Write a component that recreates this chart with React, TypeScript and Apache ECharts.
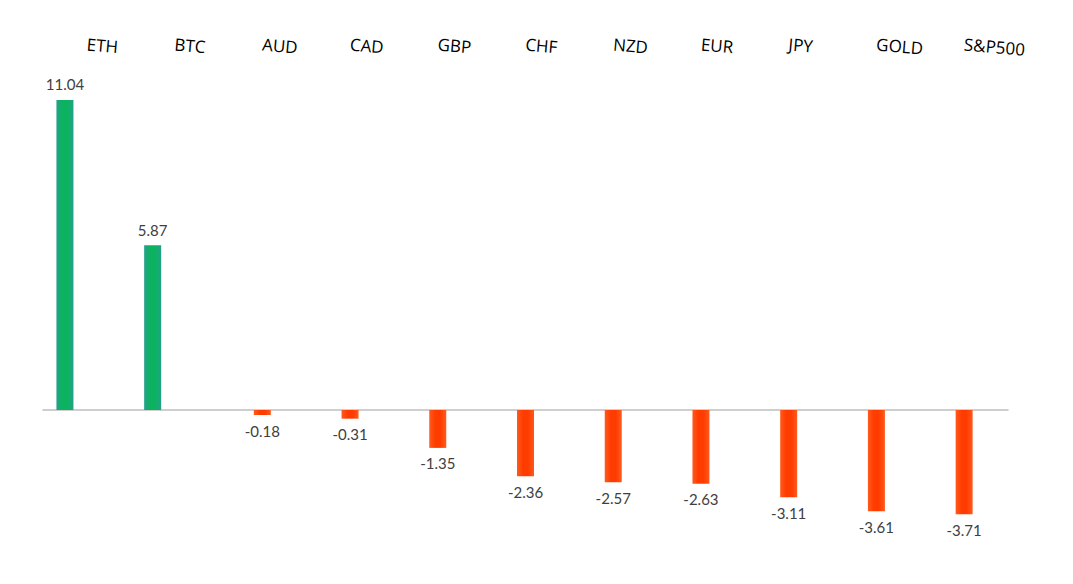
import React, { useEffect, useRef } from "react";
import * as echarts from "echarts";

const categories = ["ETH", "BTC", "AUD", "CAD", "GBP", "CHF", "NZD", "EUR", "JPY", "GOLD", "S&P500"];
const values = [11.04, 5.87, -0.18, -0.31, -1.35, -2.36, -2.57, -2.63, -3.11, -3.61, -3.71];

const positiveValues = values.map((v) => (v >= 0 ? v : null));
const negativeValues = values.map((v) => (v < 0 ? v : null));
const emptyValues = values.map(() => null);

export default function App() {
  const ref = useRef<HTMLDivElement>(null);
  useEffect(() => {
    if (!ref.current) return;
    const chart = echarts.init(ref.current, undefined, { renderer: "svg" });
    const greenGrad = new echarts.graphic.LinearGradient(0, 0, 1, 0, [
      { offset: 0, color: "#23a08a" },
      { offset: 0.35, color: "#0cb35f" },
      { offset: 0.65, color: "#0cb35f" },
      { offset: 1, color: "#23a08a" },
    ]);
    const redGrad = new echarts.graphic.LinearGradient(0, 0, 1, 0, [
      { offset: 0, color: "#ff5a1e" },
      { offset: 0.35, color: "#ff3c00" },
      { offset: 0.65, color: "#ff3c00" },
      { offset: 1, color: "#ff5a1e" },
    ]);
    const labelStyle = {
      show: true,
      color: "#404040",
      fontFamily: "Lato",
      fontSize: 15,
      distance: 8,
      formatter: (p: any) => (p.value == null ? "" : Number(p.value).toFixed(2)),
    };
    chart.setOption({
      animation: false,
      backgroundColor: "#ffffff",
      grid: { left: 43, right: 65, top: 73, bottom: 61.7 },
      xAxis: [
        {
          type: "category",
          data: categories,
          axisLine: { show: true, onZero: true, lineStyle: { color: "#bfbfbf", width: 1.5 } },
          axisTick: { show: false },
          axisLabel: { show: false },
          splitLine: { show: false },
        },
        {
          type: "category",
          data: categories,
          position: "top",
          axisLine: { show: false },
          axisTick: { show: false },
          splitLine: { show: false },
          axisLabel: {
            show: true,
            interval: 0,
            rotate: 5,
            align: "left",
            verticalAlign: "middle",
            margin: 29,
            color: "#000000",
            fontFamily: "Open Sans",
            fontSize: 17,
          },
        },
      ],
      yAxis: {
        type: "value",
        min: -4,
        max: 12,
        show: false,
        splitLine: { show: false },
      },
      series: [
        {
          type: "bar",
          data: positiveValues,
          barWidth: 17,
          barGap: "29%",
          itemStyle: { color: greenGrad },
          label: { ...labelStyle, position: "top" },
        },
        {
          type: "bar",
          data: negativeValues,
          barWidth: 17,
          barGap: "29%",
          itemStyle: { color: redGrad },
          label: { ...labelStyle, position: "bottom" },
        },
        {
          type: "bar",
          data: emptyValues,
          barWidth: 17,
          barGap: "29%",
          itemStyle: { color: "transparent" },
        },
      ],
    });
    return () => chart.dispose();
  }, []);
  return (
    <div
      ref={ref}
      style={{ position: "fixed", left: 0, top: 0, width: 1073, height: 584, background: "#fff" }}
    />
  );
}
